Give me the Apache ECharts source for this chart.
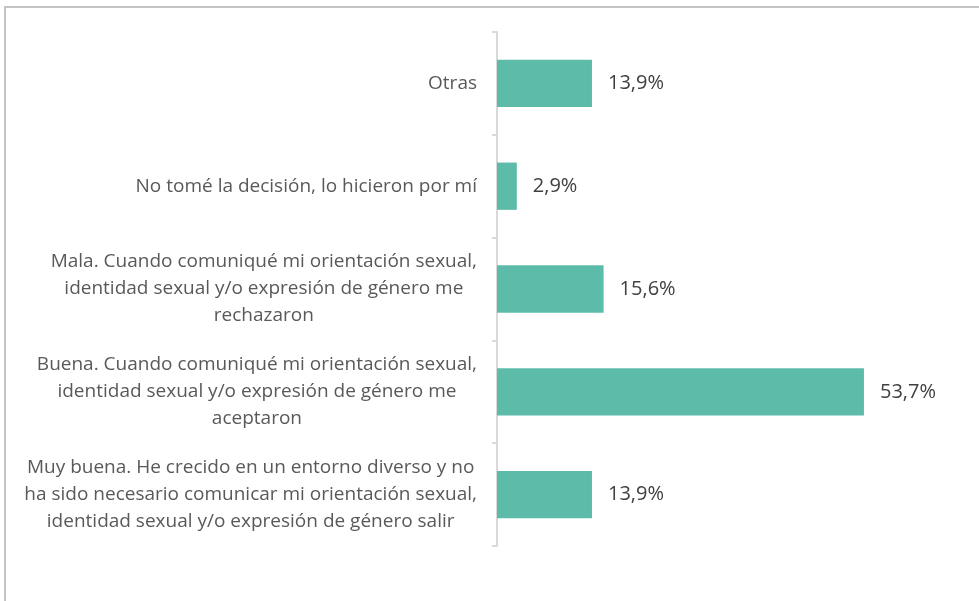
<!DOCTYPE html>
<html>
<head>
<meta charset="utf-8">
<script src="https://cdn.jsdelivr.net/npm/echarts@6/dist/echarts.min.js"></script>
<style>
  html, body { margin: 0; padding: 0; background: #fff; }
  #frame {
    position: absolute; left: 4px; top: 6px; width: 975px; height: 595px;
    border-top: 2px solid #c4c4c4; border-left: 2px solid #c4c4c4;
    box-sizing: border-box;
  }
  #chart { position: absolute; left: 0; top: 0; width: 979px; height: 601px; }
</style>
</head>
<body>
<div id="frame"></div>
<div id="chart"></div>
<script>
// bottom to top, as on the axis
const categories = [
    'Muy buena. He crecido en un entorno diverso y no\nha sido necesario comunicar mi orientación sexual,\nidentidad sexual y/o expresión de género salir',
    'Buena. Cuando comuniqué mi orientación sexual,\nidentidad sexual y/o expresión de género me\naceptaron',
    'Mala. Cuando comuniqué mi orientación sexual,\nidentidad sexual y/o expresión de género me\nrechazaron',
    'No tomé la decisión, lo hicieron por mí',
    'Otras'
];
const values = [13.9, 53.7, 15.6, 2.9, 13.9];

const chart = echarts.init(document.getElementById('chart'));

const fontFamily = '"Open Sans", "Noto Sans", sans-serif';

chart.setOption({
    animation: false,
    grid: { left: 497, right: 72, top: 32, bottom: 55 },
    xAxis: {
        type: 'value',
        min: 0,
        max: 60,
        show: false
    },
    yAxis: {
        type: 'category',
        data: categories,
        axisLine: { show: true, lineStyle: { color: '#d9d9d9', width: 2 } },
        axisTick: { show: true, alignWithLabel: false, length: 5, lineStyle: { color: '#d9d9d9', width: 2 } },
        axisLabel: {
            margin: 20,
            lineHeight: 27,
            formatter: (v) => v.split('\n').map((l) => '{c|' + l + '}').join('\n'),
            rich: {
                c: {
                    align: 'center',
                    fontFamily: fontFamily,
                    fontSize: 19,
                    color: '#595959',
                    lineHeight: 27
                }
            }
        }
    },
    series: [{
        type: 'bar',
        data: values,
        barCategoryGap: '54%',
        itemStyle: { color: '#5cbca9' },
        label: {
            show: true,
            position: 'right',
            distance: 16,
            fontFamily: fontFamily,
            fontSize: 20,
            color: '#404040',
            formatter: (p) => p.value.toFixed(1).replace('.', ',') + '%'
        }
    }]
});

window.addEventListener('resize', () => chart.resize());
</script>
</body>
</html>
